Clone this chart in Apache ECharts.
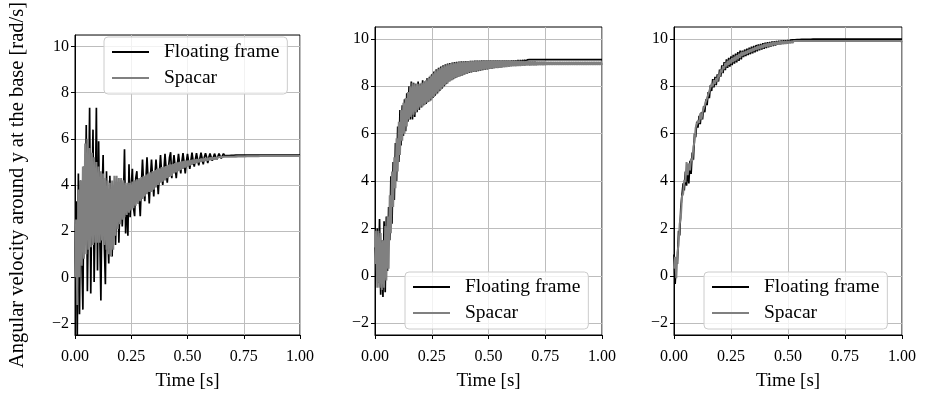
<!DOCTYPE html>
<html><head><meta charset="utf-8">
<script src="https://cdn.jsdelivr.net/npm/echarts@6/dist/echarts.min.js"></script>
<style>html,body{margin:0;padding:0;background:#fff}#c{width:925px;height:396px}</style>
</head><body><div id="c"></div>
<script>
// Time samples [s]
const time = [
0,0.005,0.01,0.015,0.02,0.025,0.03,0.035,0.04,0.045,
0.05,0.055,0.06,0.065,0.07,0.075,0.08,0.085,0.09,0.095,
0.1,0.105,0.11,0.115,0.12,0.125,0.13,0.135,0.14,0.145,
0.15,0.155,0.16,0.165,0.17,0.175,0.18,0.185,0.19,0.195,
0.2,0.205,0.21,0.215,0.22,0.225,0.23,0.235,0.24,0.245,
0.25,0.255,0.26,0.265,0.27,0.275,0.28,0.285,0.29,0.295,
0.3,0.305,0.31,0.315,0.32,0.325,0.33,0.335,0.34,0.345,
0.35,0.355,0.36,0.365,0.37,0.375,0.38,0.385,0.39,0.395,
0.4,0.405,0.41,0.415,0.42,0.425,0.43,0.435,0.44,0.445,
0.45,0.455,0.46,0.465,0.47,0.475,0.48,0.485,0.49,0.495,
0.5,0.505,0.51,0.515,0.52,0.525,0.53,0.535,0.54,0.545,
0.55,0.555,0.56,0.565,0.57,0.575,0.58,0.585,0.59,0.595,
0.6,0.605,0.61,0.615,0.62,0.625,0.63,0.635,0.64,0.645,
0.65,0.655,0.66,0.665,0.67,0.675,0.68,0.685,0.69,0.695,
0.7,0.705,0.71,0.715,0.72,0.725,0.73,0.735,0.74,0.745,
0.75,0.755,0.76,0.765,0.77,0.775,0.78,0.785,0.79,0.795,
0.8,0.805,0.81,0.815,0.82,0.825,0.83,0.835,0.84,0.845,
0.85,0.855,0.86,0.865,0.87,0.875,0.88,0.885,0.89,0.895,
0.9,0.905,0.91,0.915,0.92,0.925,0.93,0.935,0.94,0.945,
0.95,0.955,0.96,0.965,0.97,0.975,0.98,0.985,0.99,0.995,
1.0];

// Panel 1: angular velocity [rad/s]
const floating1 = [
0,3.3,-2.7,4.5,-1.6,4.2,1.0,-1.4,4.8,1.5,
6.6,-0.6,3.0,7.35,-0.7,3.5,6.4,-0.2,3.0,7.35,
0.3,5.9,2.0,-1.0,3.5,5.3,1.5,-0.3,4.6,2.0,
0.6,4.4,2.5,0.9,3.4,3.8,1.4,3.0,4.0,1.5,
3.5,4.2,2.2,3.3,5.55,1.9,3.6,1.8,4.9,2.6,
4.0,4.7,3.0,2.65,4.3,4.6,3.2,3.5,2.65,4.0,
5.1,4.0,3.3,4.2,5.2,4.2,3.2,4.3,5.1,4.3,
3.5,4.4,5.1,4.4,3.6,4.5,5.3,4.5,4.0,4.6,
5.35,4.7,4.1,4.7,5.2,5.42,4.3,4.8,5.3,4.8,
4.3,4.9,5.35,4.9,4.5,5.0,5.38,4.95,4.5,5.0,
5.35,5.0,4.7,5.05,5.4,5.05,4.8,5.1,5.38,5.1,
4.85,5.15,5.4,5.15,4.9,5.2,5.38,5.2,4.95,5.2,
5.37,
5.2,5.05,5.2,5.36, 5.22,5.1,5.23,5.36, 5.25,5.15,5.26,5.36, 5.27,5.19,5.28,5.35,
5.28,5.22,5.29,5.35, 5.29,5.24,5.3,5.34, 5.3,5.25,5.3,5.34, 5.3,5.26,5.3,5.34,
5.3,5.27,5.3,5.33, 5.3,5.27,5.3,5.33, 5.3,5.28,5.3,5.33, 5.3,5.28,5.3,5.32,
5.3,5.28,5.3,5.32, 5.3,5.29,5.3,5.32, 5.3,5.29,5.3,5.31, 5.3,5.29,5.3,5.31,
5.3,5.3,5.3,5.31, 5.3,5.3,5.3,5.31, 5.3,5.3,5.3,5.3, 5.3,5.3,5.3,5.3];
const spacar1 = [
0.0,2.5,-1.2,3.8,0.0,4.2,0.5,4.8,0.8,5.8,
1.0,6.0,1.2,5.6,1.3,5.4,1.4,5.2,1.5,5.0,
1.5,4.8,1.5,4.6,1.6,4.5,1.4,4.3,1.2,4.2,
1.0,4.1,0.9,4.2,1.2,4.4,1.8,4.4,2.1,4.3,
2.3,4.3,2.5,4.2,2.6,4.1,2.7,4.1,2.8,4.1,
2.9,4.15,3.0,4.2,3.1,4.25,3.2,4.3,3.3,4.35,
3.4,4.4,3.5,4.45,3.6,4.5,3.7,4.55,3.7,4.6,
3.8,4.65,3.9,4.7,4.0,4.72,4.1,4.78,4.15,4.8,
4.2,4.82,4.3,4.87,4.35,4.9,4.4,4.92,4.5,4.95,
4.55,4.98,4.6,5.0,4.65,5.02,4.7,5.04,4.75,5.05,
4.8,5.06,4.84,5.08,4.88,5.1,4.92,5.11,4.95,5.12,
4.98,5.13,5.0,5.15,5.02,5.16,5.05,5.17,5.06,5.18,
5.08,
5.19,5.09,5.19,5.1,5.2,5.11,5.2,5.12,5.21,5.13,5.21,5.14,5.22,5.15,5.22,5.16,5.22,5.17,5.23,5.18,
5.23,5.18,5.23,5.19,5.24,5.19,5.24,5.2,5.24,5.2,5.24,5.21,5.25,5.21,5.25,5.22,5.25,5.22,5.25,5.22,
5.25,5.23,5.25,5.23,5.26,5.23,5.26,5.23,5.26,5.24,5.26,5.24,5.26,5.24,5.26,5.24,5.26,5.24,5.26,5.24,
5.26,5.24,5.26,5.24,5.26,5.25,5.26,5.25,5.26,5.25,5.26,5.25,5.26,5.25,5.26,5.25,5.26,5.25,5.26,5.25];

// Panel 2
const floating2 = [
1.2,0.3,2.0,-0.3,2.4,-0.8,1.5,-0.9,2.3,-0.7,
2.5,0.2,2.9,1.5,4.2,2.2,4.8,3.2,5.6,4.0,
6.3,4.8,7.0,5.5,7.2,5.9,7.45,6.1,7.7,6.5,
8.0,6.6,8.2,6.6,8.15,6.7,8.1,6.9,8.2,7.0,
8.1,7.1,8.25,7.2,8.2,7.25,8.35,7.35,8.4,7.4,
8.5,7.5,8.62,7.6,8.72,7.7,8.78,7.8,8.83,7.9,
8.88,8.0,8.93,8.1,8.96,8.2,8.98,8.25,9.0,8.3,
9.02,8.35,9.03,8.4,9.04,8.42,9.05,8.46,9.05,8.5,
9.06,8.53,9.06,8.56,9.07,8.58,9.07,8.6,9.08,8.62,
9.08,8.64,9.08,8.66,9.09,8.68,9.09,8.7,9.09,8.71,
9.1,8.73,9.1,8.74,9.1,8.76,9.1,8.77,9.1,8.79,
9.1,8.8,9.1,8.82,9.1,8.84,9.1,8.86,9.1,8.88,
9.1,
8.9,9.1,8.92,9.1,8.94,9.11,8.96,9.11,8.98,9.11,9.0,9.11,9.02,9.11,9.03,9.12,9.04,9.12,9.05,9.12,
9.06,9.12,9.06,9.12,9.06,9.12,9.06,9.12,9.06,9.12,9.06,9.12,9.06,9.12,9.06,9.12,9.06,9.12,9.06,9.12,
9.06,9.12,9.06,9.12,9.06,9.12,9.06,9.12,9.06,9.12,9.06,9.12,9.06,9.12,9.06,9.12,9.06,9.12,9.06,9.12,
9.06,9.12,9.06,9.12,9.06,9.12,9.06,9.12,9.06,9.12,9.06,9.12,9.06,9.12,9.06,9.12,9.06,9.12,9.06,9.12];
const spacar2 = [
0.5,1.9,-0.5,1.9,-0.5,1.8,-0.6,1.5,-0.5,2.1,
-0.2,2.5,0.3,3.4,1.8,4.4,2.9,5.0,3.7,5.8,
4.4,6.5,5.1,7.0,5.7,7.3,6.0,7.5,6.3,7.75,
6.6,8.0,6.7,8.15,6.8,8.1,6.9,8.1,7.0,8.1,
7.1,8.15,7.15,8.2,7.22,8.25,7.3,8.35,7.36,8.45,
7.45,8.55,7.55,8.65,7.65,8.72,7.75,8.78,7.85,8.83,
7.95,8.87,8.04,8.92,8.12,8.95,8.2,8.97,8.26,8.99,
8.32,9.0,8.36,9.02,8.4,9.03,8.44,9.04,8.48,9.05,
8.52,9.05,8.55,9.06,8.58,9.07,8.6,9.07,8.62,9.08,
8.64,9.08,8.66,9.08,8.68,9.09,8.7,9.09,8.71,9.1,
8.72,9.1,8.73,9.1,8.75,9.1,8.76,9.1,8.77,9.1,
8.78,9.1,8.79,9.1,8.8,9.1,8.81,9.1,8.82,9.1,
8.83,
9.09,8.84,9.09,8.84,9.08,8.85,9.08,8.85,9.07,8.86,9.07,8.86,9.06,8.87,9.06,8.87,9.05,8.88,9.05,8.88,
9.05,8.88,9.04,8.89,9.04,8.89,9.04,8.89,9.04,8.89,9.03,8.9,9.03,8.9,9.03,8.9,9.03,8.9,9.03,8.9,
9.03,8.9,9.03,8.9,9.03,8.9,9.03,8.9,9.03,8.9,9.03,8.9,9.03,8.9,9.03,8.9,9.03,8.9,9.03,8.9,
9.03,8.9,9.03,8.9,9.03,8.9,9.03,8.9,9.03,8.9,9.03,8.9,9.03,8.9,9.03,8.9,9.03,8.9,9.03,8.9];

// Panel 3
const floating3 = [
0.9,-0.35,0.6,0.5,1.9,1.7,2.9,2.9,3.9,3.6,
4.4,3.8,4.6,3.9,4.85,4.3,5.2,4.9,6.0,5.85,
6.5,6.25,6.75,6.4,6.9,6.6,7.15,6.9,7.45,7.2,
7.75,7.5,8.05,7.8,8.3,7.95,8.4,8.05,8.5,8.2,
8.7,8.4,8.88,8.55,9.02,8.68,9.13,8.77,9.2,8.83,
9.26,8.89,9.32,8.95,9.38,9.01,9.44,9.07,9.5,9.13,
9.5,9.23,9.55,9.27,9.59,9.31,9.63,9.35,9.67,9.39,
9.7,9.43,9.74,9.47,9.77,9.51,9.79,9.55,9.82,9.58,
9.84,9.61,9.86,9.64,9.87,9.67,9.89,9.7,9.9,9.72,
9.91,9.75,9.92,9.77,9.93,9.79,9.94,9.81,9.94,9.83,
9.95,9.85,9.95,9.87,9.96,9.88,9.96,9.9,9.97,9.91,
9.97,9.92,9.98,9.93,9.98,9.94,9.98,9.94,9.98,9.95,
9.98,
9.96,9.99,9.96,9.99,9.96,9.99,9.96,9.99,9.96,9.99,9.96,9.99,9.96,9.99,9.96,9.99,9.96,9.99,9.96,9.99,
9.96,9.99,9.96,9.99,9.96,9.99,9.96,9.99,9.96,9.99,9.96,9.99,9.96,9.99,9.96,9.99,9.96,9.99,9.96,9.99,
9.96,9.99,9.96,9.99,9.96,9.99,9.96,9.99,9.96,9.99,9.96,9.99,9.96,9.99,9.96,9.99,9.96,9.99,9.96,9.99,
9.96,9.99,9.96,9.99,9.96,9.99,9.96,9.99,9.96,9.99,9.96,9.99,9.96,9.99,9.96,9.99,9.96,9.99,9.96,9.99];
const spacar3 = [
0.3,0.8,-0.1,1.0,1.3,2.2,2.45,3.35,3.45,4.05,
3.95,4.8,4.25,4.75,4.45,4.95,4.85,5.45,5.65,6.25,
6.2,6.55,6.45,6.85,6.6,6.9,6.85,7.2,7.15,7.5,
7.45,7.8,7.75,8.1,8.0,8.25,8.1,8.35,8.2,8.5,
8.4,8.7,8.58,8.85,8.72,8.98,8.83,9.07,8.9,9.13,
8.96,9.19,9.02,9.25,9.08,9.31,9.14,9.37,9.2,9.43,
9.28,9.45,9.33,9.49,9.37,9.53,9.41,9.57,9.45,9.61,
9.49,9.65,9.53,9.685,9.56,9.715,9.59,9.745,9.62,9.775,
9.65,9.8,9.67,9.82,9.69,9.84,9.71,9.86,9.73,9.87,
9.75,9.88,9.76,9.89,9.77,9.9,9.78,9.9,9.79,9.91,
9.8,9.91,9.81,9.91,9.82,9.91,9.83,9.91,9.83,9.91,
9.84,9.91,9.84,9.91,9.84,9.91,9.84,9.91,9.84,9.91,
9.84,
9.91,9.84,9.91,9.84,9.91,9.84,9.91,9.85,9.91,9.85,9.91,9.85,9.91,9.85,9.91,9.85,9.91,9.85,9.91,9.85,
9.91,9.85,9.91,9.85,9.91,9.85,9.91,9.85,9.91,9.85,9.91,9.85,9.91,9.85,9.91,9.85,9.91,9.85,9.91,9.85,
9.91,9.85,9.91,9.85,9.91,9.85,9.91,9.85,9.91,9.85,9.91,9.85,9.91,9.85,9.91,9.85,9.91,9.85,9.91,9.85,
9.91,9.85,9.91,9.85,9.91,9.85,9.91,9.85,9.91,9.85,9.91,9.85,9.91,9.85,9.91,9.85,9.91,9.85,9.91,9.85];

const xTicks = [0, 0.25, 0.5, 0.75, 1];
const yTicks = [-2, 0, 2, 4, 6, 8, 10];
const seriesNames = ['Floating frame', 'Spacar'];
const panels = [[floating1, spacar1], [floating2, spacar2], [floating3, spacar3]];

[floating1, spacar1, floating2, spacar2, floating3, spacar3].forEach((a, k) => {
  if (a.length !== time.length) throw new Error('length mismatch in array ' + k + ': ' + a.length + ' vs ' + time.length);
});

const FONT = "'Liberation Serif', 'DejaVu Serif', serif";
const grids = [
  {left: 75, top: 27, width: 225, height: 308},
  {left: 375, top: 27, width: 227, height: 311},
  {left: 674, top: 27, width: 228, height: 311}
];
const legendPos = [{left: 104, top: 37}, {left: 405, top: 272}, {left: 704, top: 272}];
const colors = ['#000000', '#808080'];
const fmtY = v => (v < 0 ? '\u2212' + (-v) : String(v));

const option = {
  animation: false,
  backgroundColor: '#ffffff',
  grid: grids.map(g => Object.assign({show: true, borderColor: '#000', borderWidth: 1, backgroundColor: 'transparent'}, g)),
  xAxis: grids.map((g, k) => ({
    type: 'value', gridIndex: k, min: xTicks[0], max: xTicks[xTicks.length - 1], interval: 0.25,
    axisLine: {show: true, onZero: false, lineStyle: {color: '#000', width: 1}},
    axisTick: {show: true, inside: false, length: 4, lineStyle: {color: '#000'}},
    axisLabel: {formatter: v => v.toFixed(2), fontFamily: FONT, fontSize: 16, color: '#000', margin: 14},
    splitLine: {show: true, lineStyle: {color: '#bdbdbd', width: 1}},
    name: 'Time [s]', nameLocation: 'middle', nameGap: 37,
    nameTextStyle: {fontFamily: FONT, fontSize: 19, color: '#000'}
  })),
  yAxis: grids.map((g, k) => ({
    type: 'value', gridIndex: k, min: -2.5, max: 10.5, splitNumber: 6,
    axisLine: {show: true, onZero: false, lineStyle: {color: '#000', width: 1}},
    axisTick: {show: true, inside: false, length: 4, lineStyle: {color: '#000'}, customValues: yTicks},
    axisLabel: {formatter: fmtY, fontFamily: FONT, fontSize: 16, color: '#000', margin: 6,
                customValues: yTicks},
    splitLine: {show: true, lineStyle: {color: '#bdbdbd', width: 1}},
    name: k === 0 ? 'Angular velocity around y at the base [rad/s]' : '',
    nameLocation: 'middle', nameGap: 47,
    nameTextStyle: {fontFamily: FONT, fontSize: 20.5, color: '#000'}
  })),
  legend: legendPos.map(p => ({
    left: p.left, top: p.top, orient: 'vertical', selectedMode: false,
    itemWidth: 37, itemHeight: 2, itemGap: 6,
    backgroundColor: 'rgba(255,255,255,0.8)', borderColor: '#cccccc', borderWidth: 1, borderRadius: 4,
    padding: [5, 8, 6, 8],
    textStyle: {fontFamily: FONT, fontSize: 19.5, color: '#000', lineHeight: 20, padding: [0, 0, 0, 10]},
    data: seriesNames.map(n => ({name: n, icon: 'rect'}))
  })),
  series: []
};

panels.forEach((pair, k) => {
  pair.forEach((vals, j) => {
    option.series.push({
      type: 'line', name: seriesNames[j], xAxisIndex: k, yAxisIndex: k,
      data: time.map((t, i) => [t, vals[i]]),
      showSymbol: false, symbol: 'none', clip: true, silent: true,
      color: colors[j], itemStyle: {color: colors[j]},
      lineStyle: {color: colors[j], width: j === 0 ? 1.7 : 2, join: 'bevel'},
      z: 2 + j
    });
  });
});

const chart = echarts.init(document.getElementById('c'), null, {renderer: 'canvas'});
chart.setOption(option);
</script></body></html>
